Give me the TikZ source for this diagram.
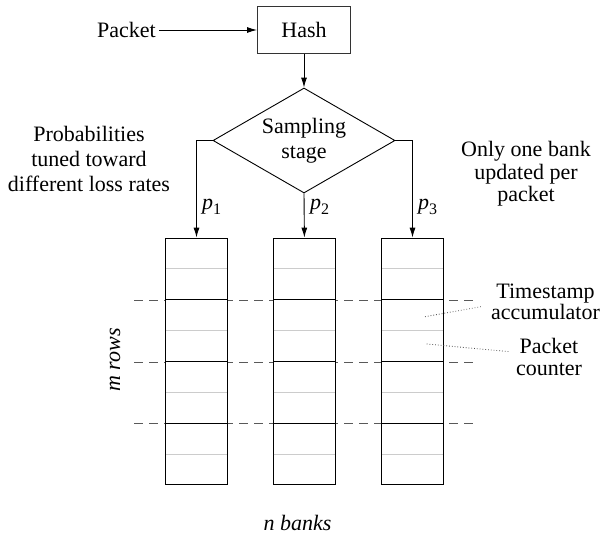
\documentclass[tikz,border=0pt]{standalone}
\usepackage{fontspec}
\setmainfont{Liberation Serif}
\usetikzlibrary{arrows.meta,shapes.geometric,calc}
\begin{document}
\begin{tikzpicture}[x=1pt,y=-1pt,
  every node/.style={font=\fontsize{22}{25}\selectfont, inner sep=0pt},
  arr/.style={-{Latex[length=10pt,width=6pt]}, line width=0.9pt},
  hashbox/.style={draw=black!80, line width=1pt, fill=white, minimum width=93pt, minimum height=46pt},
  dia/.style={diamond, draw, line width=0.9pt, aspect=1.75, minimum width=182pt, minimum height=105pt, align=center},
  bank/.style={draw, line width=1.1pt, fill=white, minimum width=61.5pt, minimum height=246.7pt},
  rowline/.style={line width=1.3pt, black},
  subline/.style={line width=1pt, black!20},
  rowdash/.style={dashed, dash pattern=on 9pt off 6pt, line width=1pt, black!65},
  leader/.style={dotted, line width=0.8pt, black!70},
  plab/.style={anchor=west},
  tight/.style={font=\fontsize{22}{21.5}\selectfont}
]
\path[use as bounding box] (0,0) rectangle (601,535);

% dashed row separators
\foreach \yy in {300,362,423} {
  \draw[rowdash] (134,\yy) -- (475,\yy);
}

% nodes
\node (packet) at (126.5,30) {Packet};
\node[hashbox] (hash) at (304,30) {Hash};
\node[dia] (samp) at (304,140.5) {Sampling\\stage};

\node[bank] (b1) at (196.5,361.5) {};
\node[bank] (b2) at (304.4,361.5) {};
\node[bank] (b3) at (412.5,361.5) {};

% bank internal lines
\foreach \b in {b1,b2,b3} {
  \foreach \k in {1,3,5,7} {
    \draw[subline] ($(\b.north west)!\k/8!(\b.south west)+(0.6,0)$) -- ($(\b.north east)!\k/8!(\b.south east)+(-0.6,0)$);
  }
  \foreach \k in {2,4,6} {
    \draw[rowline] ($(\b.north west)!\k/8!(\b.south west)$) -- ($(\b.north east)!\k/8!(\b.south east)$);
  }
}

% connectors
\draw[arr] (packet.east) ++(3,0) -- (hash.west);
\draw[arr] (hash.south) -- (samp.north);
\draw[arr] (samp.west) -| (b1.north);
\draw[arr] (samp.south) -- (b2.north);
\draw[arr] (samp.east) -| (b3.north);

% probability labels
\node[plab] (p1) at (202,207) {\textit{p}\raisebox{-5pt}{\fontsize{16}{16}\selectfont 1}};
\node[plab] (p2) at (310,207) {\textit{p}\raisebox{-5pt}{\fontsize{16}{16}\selectfont 2}};
\node[plab] (p3) at (418,207) {\textit{p}\raisebox{-5pt}{\fontsize{16}{16}\selectfont 3}};

% annotations
\node[align=center] (probtxt) at (89,159) {Probabilities\\tuned toward\\different loss rates};
\node[align=center, font=\fontsize{22}{22.5}\selectfont] (onetxt) at (526,174) {Only one bank\\updated per\\packet\hspace{20pt}};
\node[align=center, tight] (tstxt) at (545.5,302) {Timestamp\\accumulator};
\node[align=center, tight] (pctxt) at (549,357) {Packet\\counter};

\coordinate (tsstart) at (425,316.7);
\coordinate (tsend) at (482,306.5);
\coordinate (pcstart) at (426.7,344);
\coordinate (pcend) at (510,351.7);
\draw[leader] (tsstart) -- (tsend);
\draw[leader] (pcstart) -- (pcend);

\node[rotate=90] (mrows) at (115,360) {\textit{m rows}};
\node (nbanks) at (297.5,523) {\textit{n banks}};
\end{tikzpicture}
\end{document}
